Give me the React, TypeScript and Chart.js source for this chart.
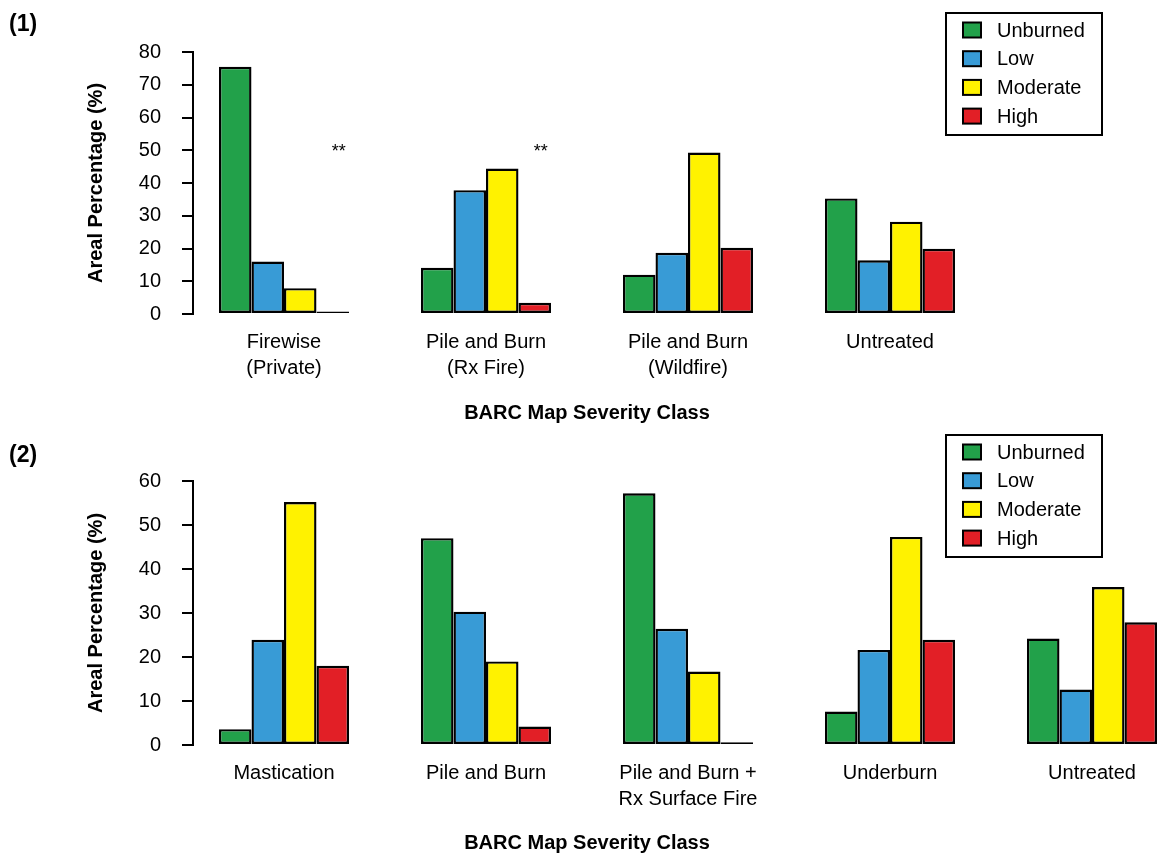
import React, { useEffect, useRef } from 'react';
import { Chart, registerables } from 'chart.js';

Chart.register(...registerables);

const FONT = "'Liberation Sans', Arial, Helvetica, sans-serif";

const severityClasses = ['Unburned', 'Low', 'Moderate', 'High'];
const severityColors = ['#22a14a', '#389bd6', '#fff200', '#e21f26'];

// Panel (1)
const topCategories = [
  ['Firewise', '(Private)'],
  ['Pile and Burn', '(Rx Fire)'],
  ['Pile and Burn', '(Wildfire)'],
  ['Untreated'],
];
const topUnburned = [75.5, 14.1, 12.0, 35.3];
const topLow = [16.0, 37.8, 18.7, 16.4];
const topModerate = [7.9, 44.4, 49.3, 28.2];
const topHigh = [0.8, 3.4, 20.2, 19.9];
const topYMax = 80;
const topAsteriskCategories = [0, 1];
const topAsteriskValue = 48;

// Panel (2)
const bottomCategories = [
  ['Mastication'],
  ['Pile and Burn'],
  ['Pile and Burn +', 'Rx Surface Fire'],
  ['Underburn'],
  ['Untreated'],
];
const bottomUnburned = [3.6, 47.0, 57.2, 7.6, 24.2];
const bottomLow = [23.9, 30.3, 26.4, 21.6, 12.6];
const bottomModerate = [55.2, 19.0, 16.7, 47.3, 35.9];
const bottomHigh = [18.0, 4.2, 0.6, 23.9, 27.9];
const bottomYMax = 60;

const Y_TICK_STEP = 10;
const X_MIN = -0.4505;
const X_MAX = 4.3515;

const decorPlugin = {
  id: 'decor',
  afterDraw(chart: any, _args: any, opts: any) {
    const ctx = chart.ctx as CanvasRenderingContext2D;
    const xs = chart.scales.x;
    const ys = chart.scales.y;
    ctx.save();
    ctx.fillStyle = '#000';
    // panel tag
    ctx.font = `bold 23px ${FONT}`;
    ctx.textAlign = 'left';
    ctx.textBaseline = 'middle';
    ctx.fillText(opts.tag, 9, opts.tagY);
    // x title
    ctx.font = `bold 20px ${FONT}`;
    ctx.textAlign = 'center';
    ctx.fillText('BARC Map Severity Class', xs.getPixelForValue(1.5), opts.xTitleY);
    // asterisks
    const meta = chart.getDatasetMeta(3);
    ctx.font = `18px ${FONT}`;
    ctx.textBaseline = 'alphabetic';
    (opts.asterisks || []).forEach((i: number) => {
      const bar = meta.data[i];
      if (bar) ctx.fillText('**', bar.x + 6, ys.getPixelForValue(opts.asteriskValue));
    });
    // legend
    const left = chart.width - 219;
    const top = opts.legendTop;
    ctx.lineWidth = 2;
    ctx.strokeStyle = '#000';
    ctx.fillStyle = '#fff';
    ctx.fillRect(left, top, 156, 122);
    ctx.strokeRect(left, top, 156, 122);
    ctx.font = `20px ${FONT}`;
    ctx.textAlign = 'left';
    ctx.textBaseline = 'middle';
    severityClasses.forEach((name, i) => {
      const cy = top + 17 + i * 28.7;
      ctx.fillStyle = severityColors[i];
      ctx.fillRect(left + 17, cy - 7.5, 18, 15);
      ctx.strokeRect(left + 17, cy - 7.5, 18, 15);
      ctx.fillStyle = '#000';
      ctx.fillText(name, left + 51, cy + 1);
    });
    ctx.restore();
  },
};

type PanelProps = {
  height: number;
  areaTop: number;
  areaBottom: number;
  categories: string[][];
  series: number[][];
  yMax: number;
  tag: string;
  tagY: number;
  legendTop: number;
  xTitleY: number;
  asterisks?: number[];
  asteriskValue?: number;
};

function Panel(p: PanelProps) {
  const ref = useRef<HTMLCanvasElement | null>(null);
  useEffect(() => {
    if (!ref.current) return;
    const datasets = severityClasses.map((name, s) => ({
      label: name,
      data: p.series[s].map((v, i) => ({ x: i, y: v })),
      backgroundColor: severityColors[s],
      borderColor: '#000',
      borderWidth: 2.4,
      borderSkipped: false as any,
      categoryPercentage: 130 / 202,
      barPercentage: 1,
      inflateAmount: 0,
    }));
    const chart = new Chart(ref.current, {
      type: 'bar',
      data: { datasets },
      plugins: [decorPlugin],
      options: {
        responsive: false,
        animation: false,
        events: [],
        layout: { padding: { left: 0, right: 2, top: p.areaTop, bottom: 0 } },
        plugins: {
          legend: { display: false },
          tooltip: { enabled: false },
          decor: {
            tag: p.tag,
            tagY: p.tagY,
            legendTop: p.legendTop,
            xTitleY: p.xTitleY,
            asterisks: p.asterisks || [],
            asteriskValue: p.asteriskValue || 0,
          },
        } as any,
        scales: {
          x: {
            type: 'linear',
            min: X_MIN,
            max: X_MAX,
            offset: false,
            bounds: 'data',
            grid: { display: false, drawTicks: false, tickLength: 0, offset: false },
            border: { display: false },
            afterBuildTicks: (s: any) => {
              s.ticks = p.categories.map((_, i) => ({ value: i }));
            },
            afterFit: (s: any) => {
              s.height = p.height - p.areaBottom;
            },
            ticks: {
              autoSkip: false,
              maxRotation: 0,
              minRotation: 0,
              padding: 15,
              color: '#000',
              font: { family: FONT, size: 20, lineHeight: 1.33 },
              callback: (v: any) => p.categories[Math.round(Number(v))] || '',
            },
          },
          y: {
            min: 0,
            max: p.yMax,
            afterFit: (s: any) => {
              s.width = 193;
            },
            grid: {
              drawOnChartArea: false,
              color: '#000',
              lineWidth: 2,
              tickLength: 11,
              tickWidth: 2,
            },
            border: { display: true, color: '#000', width: 2 },
            ticks: {
              stepSize: Y_TICK_STEP,
              padding: 21,
              color: '#000',
              font: { family: FONT, size: 20 },
            },
            title: {
              display: true,
              text: 'Areal Percentage (%)',
              color: '#000',
              font: { family: FONT, size: 20, weight: 'bold', lineHeight: 1.2 },
              padding: { top: 84, bottom: 0 },
            },
          },
        },
      } as any,
    });
    return () => chart.destroy();
  }, []);
  return <canvas ref={ref} width={1165} height={p.height} style={{ display: 'block', width: 1165, height: p.height }} />;
}

export default function App() {
  return (
    <div style={{ position: 'absolute', left: 0, top: 0, width: 1165, height: 857, background: '#fff' }}>
      <Panel
        height={430}
        areaTop={52}
        areaBottom={314}
        categories={topCategories}
        series={[topUnburned, topLow, topModerate, topHigh]}
        yMax={topYMax}
        tag="(1)"
        tagY={25}
        legendTop={13}
        xTitleY={413}
        asterisks={topAsteriskCategories}
        asteriskValue={topAsteriskValue}
      />
      <Panel
        height={427}
        areaTop={51}
        areaBottom={315}
        categories={bottomCategories}
        series={[bottomUnburned, bottomLow, bottomModerate, bottomHigh]}
        yMax={bottomYMax}
        tag="(2)"
        tagY={26}
        legendTop={5}
        xTitleY={413}
      />
    </div>
  );
}
